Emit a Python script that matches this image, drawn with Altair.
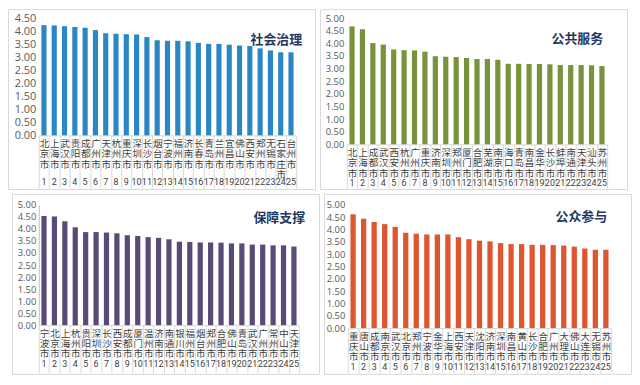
import altair as alt
import pandas as pd

CJK = "Noto Sans CJK SC"

ranks = list(range(1, 26))

cities1 = ["北京市", "上海市", "武汉市", "贵阳市", "成都市", "广州市", "天津市", "杭州市", "重庆市", "深圳市",
           "长沙市", "烟台市", "宁波市", "福州市", "济南市", "长春市", "青岛市", "兰州市", "宜昌市", "佛山市",
           "西安市", "郑州市", "无锡市", "石家庄市", "台州市"]
values1 = [4.23, 4.22, 4.19, 4.16, 4.13, 4.04, 3.92, 3.90, 3.88, 3.87, 3.77, 3.65, 3.63, 3.63, 3.61,
           3.55, 3.51, 3.51, 3.48, 3.45, 3.43, 3.34, 3.26, 3.19, 3.19]

cities2 = ["北京市", "上海市", "成都市", "武汉市", "西安市", "杭州市", "广州市", "重庆市", "济南市", "深圳市",
           "郑州市", "厦门市", "合肥市", "芜湖市", "南京市", "海口市", "青岛市", "南昌市", "金华市", "长沙市",
           "蚌埠市", "南通市", "天津市", "汕头市", "苏州市"]
values2 = [4.67, 4.56, 4.01, 3.95, 3.76, 3.73, 3.72, 3.67, 3.49, 3.47, 3.46, 3.42, 3.38, 3.38, 3.35,
           3.19, 3.19, 3.18, 3.18, 3.17, 3.14, 3.14, 3.14, 3.13, 3.10]

cities3 = ["宁波市", "北京市", "上海市", "杭州市", "贵阳市", "深圳市", "长沙市", "西安市", "成都市", "厦门市",
           "温州市", "济南市", "南通市", "银川市", "福州市", "烟台市", "郑州市", "合肥市", "佛山市", "青岛市",
           "武汉市", "广州市", "常州市", "中山市", "天津市"]
values3 = [4.54, 4.52, 4.32, 4.07, 3.87, 3.87, 3.85, 3.82, 3.74, 3.71, 3.66, 3.63, 3.57, 3.47, 3.46,
           3.44, 3.44, 3.43, 3.40, 3.40, 3.35, 3.35, 3.32, 3.32, 3.27]

cities4 = ["重庆市", "唐山市", "成都市", "南京市", "武汉市", "北京市", "郑州市", "宁波市", "金华市", "上海市",
           "西安市", "天津市", "沈阳市", "济南市", "深圳市", "南昌市", "黄山市", "长沙市", "合肥市", "广州市",
           "大理市", "佛山市", "大连市", "无锡市", "苏州市"]
values4 = [4.62, 4.44, 4.31, 4.22, 4.11, 3.87, 3.83, 3.80, 3.80, 3.80, 3.69, 3.61, 3.55, 3.52, 3.45,
           3.41, 3.41, 3.38, 3.38, 3.37, 3.35, 3.31, 3.23, 3.18, 3.18]

titles = ["社会治理", "公共服务", "保障支撑", "公众参与"]
colors = ["#2B87C4", "#77933C", "#5A4A78", "#DE5630"]
ymax_list = [4.5, 5.0, 5.0, 5.0]


def panel(cities, values, title, color, ymax, W, H, left, right, top, bottom,
          rank_off, ylab_size, title_dx, title_y, ydomain=False):
    df = pd.DataFrame({"city": cities, "value": values, "rank": ranks})
    tick_len = bottom - 2
    x = alt.X(
        "city:N", sort=cities, title=None,
        scale=alt.Scale(paddingInner=0, paddingOuter=0),
        axis=alt.Axis(
            labelAngle=0, labelExpr="split(datum.label, '')", labelBaseline="top",
            labelAlign="center", labelFont=CJK, labelFontSize=9.5, labelLineHeight=10.5,
            labelColor="#404040", labelPadding=3 - tick_len, labelOverlap=False, labelLimit=0,
            tickBand="extent", tickSize=tick_len, tickColor="#d9d9d9",
            domainColor="#d9d9d9",
        ),
    )
    yvals = [i * 0.5 for i in range(int(ymax / 0.5) + 1)]
    y = alt.Y(
        "value:Q", title=None, scale=alt.Scale(domain=[0, ymax], nice=False),
        axis=alt.Axis(values=yvals, format=".2f", grid=False, domain=ydomain,
                      domainColor="#bfbfbf", ticks=False,
                      labelFont="Open Sans", labelFontSize=ylab_size, labelColor="#595959",
                      labelPadding=3),
    )
    bars = alt.Chart(df).mark_bar(color=color, width=alt.RelativeBandSize(0.5)).encode(x=x, y=y)
    rank_text = alt.Chart(df).mark_text(
        baseline="middle", font="Roboto", fontSize=9, color="#404040"
    ).encode(x=x, y=alt.value(H + rank_off), text="rank:Q")
    one = pd.DataFrame({"t": [title]})
    title_mark = alt.Chart(one).mark_text(
        align="right", baseline="middle", font=CJK, fontSize=13, fontWeight="bold", color="#1F3864"
    ).encode(x=alt.value(W + title_dx), y=alt.value(title_y), text="t:N")
    frame = alt.Chart(one).mark_rect(
        fillOpacity=0, stroke="#d9d9d9", strokeWidth=1
    ).encode(
        x=alt.value(-left + 0.5), x2=alt.value(W + right - 0.5),
        y=alt.value(-top + 0.5), y2=alt.value(H + bottom - 0.5),
    )
    return alt.layer(frame, bars, rank_text, title_mark).properties(width=W, height=H)


p1 = panel(cities1, values1, titles[0], colors[0], ymax_list[0],
           W=259, H=118, left=31, right=20, top=9, bottom=55,
           rank_off=47, ylab_size=11, title_dx=6, title_y=22)
p2 = panel(cities2, values2, titles[1], colors[1], ymax_list[1],
           W=262, H=127, left=27, right=21, top=9, bottom=46,
           rank_off=39, ylab_size=9.5, title_dx=-4, title_y=21)
p3 = panel(cities3, values3, titles[2], colors[2], ymax_list[2],
           W=262, H=121, left=27, right=21, top=11, bottom=50,
           rank_off=39, ylab_size=9.5, title_dx=6, title_y=13, ydomain=True)
p4 = panel(cities4, values4, titles[3], colors[3], ymax_list[3],
           W=265, H=124, left=24, right=21, top=11, bottom=47,
           rank_off=39, ylab_size=9.5, title_dx=-4, title_y=12)

row1 = alt.hconcat(p1, p2, spacing=4)
row2 = alt.hconcat(p3, p4, spacing=4)
chart = (
    alt.vconcat(row1, row2, spacing=4)
    .properties(padding=0)
    .configure_view(stroke=None)
)

chart.save("out.html", embed_options={"renderer": "svg", "actions": False})
